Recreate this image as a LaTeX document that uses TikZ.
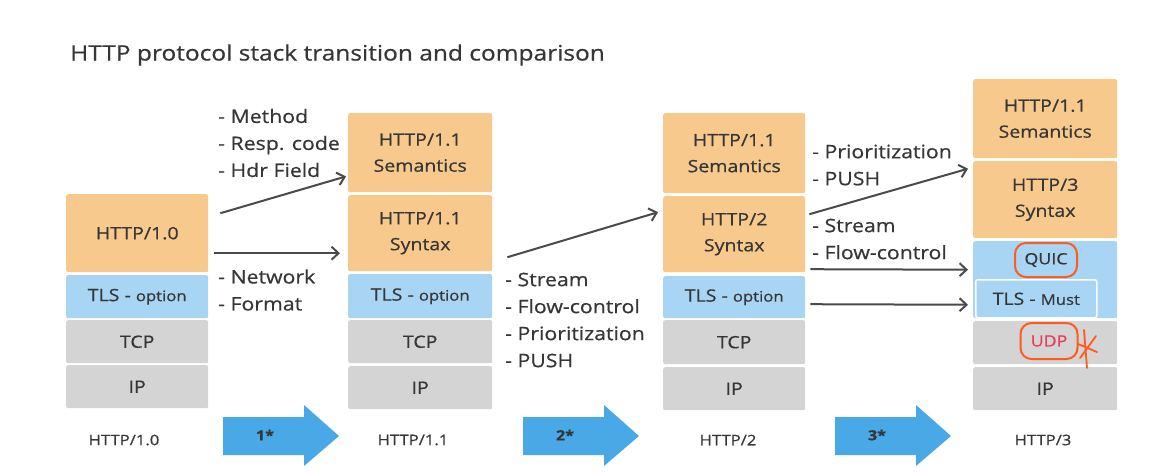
\documentclass[tikz,border=0pt]{standalone}
\usepackage{fontspec}
\setmainfont{Open Sans}[FakeStretch=1.15,FakeBold=0.6]
\usetikzlibrary{arrows.meta,positioning}

\definecolor{peach}{HTML}{F8C98D}
\definecolor{sky}{HTML}{A8D5F3}
\definecolor{lgray}{HTML}{D4D4D4}
\definecolor{bigblue}{HTML}{48A9E6}
\definecolor{ink}{HTML}{363636}
\definecolor{redpen}{HTML}{FF5A1F}
\definecolor{udpred}{HTML}{E83E5A}

\newcommand{\boxfont}{\fontsize{17}{26}\selectfont}
\newcommand{\notefont}{\fontsize{18.5}{27}\selectfont}
\newcommand{\smallfont}{\fontsize{14.5}{16}\selectfont}

\tikzset{
  layer/.style={rounded corners=2pt, inner sep=0pt, align=center, anchor=north west,
    text=ink, font=\boxfont},
  http/.style={layer, fill=peach},
  sec/.style={layer, fill=sky},
  net/.style={layer, fill=lgray},
  note/.style={inner sep=0pt, align=left, anchor=west, text=ink, font=\notefont},
  version/.style={inner sep=0pt, text=ink, font=\fontsize{14.5}{18}\selectfont},
  steplbl/.style={inner sep=0pt, text=ink, font=\fontsize{14}{16}\selectfont\bfseries},
  flow/.style={draw=ink!90, line width=2pt, -{Straight Barb[length=7pt,width=13pt]}},
  redring/.style={draw=redpen, line width=2pt, rounded corners=11pt, inner sep=0pt,
    font=\fontsize{15.5}{18}\selectfont}
}

\begin{document}
\begin{tikzpicture}[x=1pt,y=-1pt]
\useasboundingbox (0,0) rectangle (1166,472);

\node[anchor=west, inner sep=0pt, text=ink, font=\fontsize{21.3}{26}\selectfont]
  (head) at (70,55) {HTTP protocol stack transition and comparison};

% HTTP/1.0
\node[http, minimum width=142pt, minimum height=78pt] (h10) at (66,194) {HTTP/1.0};
\node[sec, minimum width=142pt, minimum height=43pt] (tls10) at (66,275) {TLS - {\smallfont option}};
\node[net, minimum width=142pt, minimum height=43pt] (tcp10) at (66,320) {TCP};
\node[net, minimum width=142pt, minimum height=43pt] (ip10) at (66,365) {IP};

% HTTP/1.1
\node[http, minimum width=144pt, minimum height=79pt] (sem11) at (348,113) {HTTP/1.1\\Semantics};
\node[http, minimum width=144pt, minimum height=76pt] (syn11) at (348,195) {HTTP/1.1\\Syntax};
\node[sec, minimum width=144pt, minimum height=44pt] (tls11) at (348,274) {TLS - {\smallfont option}};
\node[net, minimum width=144pt, minimum height=43pt] (tcp11) at (348,320) {TCP};
\node[net, minimum width=144pt, minimum height=43pt] (ip11) at (348,366) {IP};

% HTTP/2
\node[http, minimum width=142pt, minimum height=80pt] (sem2) at (663,113) {HTTP/1.1\\Semantics};
\node[http, minimum width=142pt, minimum height=76pt] (syn2) at (663,196) {HTTP/2\\Syntax};
\node[sec, minimum width=142pt, minimum height=42pt] (tls2) at (663,276) {TLS - {\smallfont option}};
\node[net, minimum width=142pt, minimum height=44pt] (tcp2) at (663,320) {TCP};
\node[net, minimum width=142pt, minimum height=43pt] (ip2) at (663,367) {IP};

% HTTP/3
\node[http, minimum width=144pt, minimum height=79pt] (sem3) at (973,79) {HTTP/1.1\\Semantics};
\node[http, minimum width=144pt, minimum height=77pt] (syn3) at (973,161) {HTTP/3\\Syntax};
\node[sec, minimum width=144pt, minimum height=77pt] (quic) at (973,241) {};
\node[sec, draw=white, line width=1.5pt, minimum width=121pt, minimum height=38pt] (tlsm) at (975,279) {TLS - {\smallfont Must}};
\node[net, minimum width=144pt, minimum height=43pt] (udp) at (973,321) {};
\node[net, minimum width=144pt, minimum height=43pt] (ip3) at (973,367) {IP};
\node[redring, text=ink, minimum width=62pt, minimum height=34pt] (quiclbl) at (1046,260) {QUIC};
\node[redring, text=udpred, minimum width=57pt, minimum height=36pt] (udplbl) at (1049,341) {UDP};
\draw[redpen, line width=1.8pt, line cap=round] (1084,330) -- (1087,368)
  (1078,344) -- (1097,352) (1080,358) -- (1096,336);

% what changed
\node[note] (changes10) at (218,143) {- Method\\- Resp. code\\- Hdr Field};
\node[note] (framing10) at (218,290) {- Network\\- Format};
\node[note] (changes11) at (505,320) {- Stream\\- Flow-control\\- Prioritization\\- PUSH};
\node[note] (prio2) at (812,165) {- Prioritization\\- PUSH};
\node[note] (stream2) at (812,239) {- Stream\\- Flow-control};

\draw[flow] ([shift={(12,-20)}]h10.east) -- ([shift={(-2,-16)}]sem11.south west);
\draw[flow] ([shift={(6,20)}]h10.east) -- ([shift={(-8,20)}]syn11.west);
\draw[flow] ([shift={(15,24)}]syn11.east) -- ([shift={(-5,-22)}]syn2.west);
\draw[flow] ([shift={(4,-20)}]syn2.east) -- ([shift={(-5,-31)}]syn3.west);
\draw[flow] ([shift={(5,35)}]syn2.east) -- ([shift={(-5,-10)}]quic.west);
\draw[flow] ([shift={(5,7)}]tls2.east) -- ([shift={(-7,6)}]tlsm.west);

% versions and steps
\node[version] (ver10) at (124,440) {HTTP/1.0};
\node[version] (ver11) at (413,440) {HTTP/1.1};
\node[version] (ver2) at (728,440) {HTTP/2};
\node[version] (ver3) at (1043,440) {HTTP/3};
\foreach \x/\n in {223/1,523/2,835/3} {
  \fill[bigblue] (\x,417) -- ++(81,0) -- ++(0,-12) -- ++(35,31) -- ++(-35,30)
    -- ++(0,-11) -- ++(-81,0) -- cycle;
  \node[steplbl] (step\n) at (\x+42,435) {\n*};
}
\end{tikzpicture}
\end{document}
